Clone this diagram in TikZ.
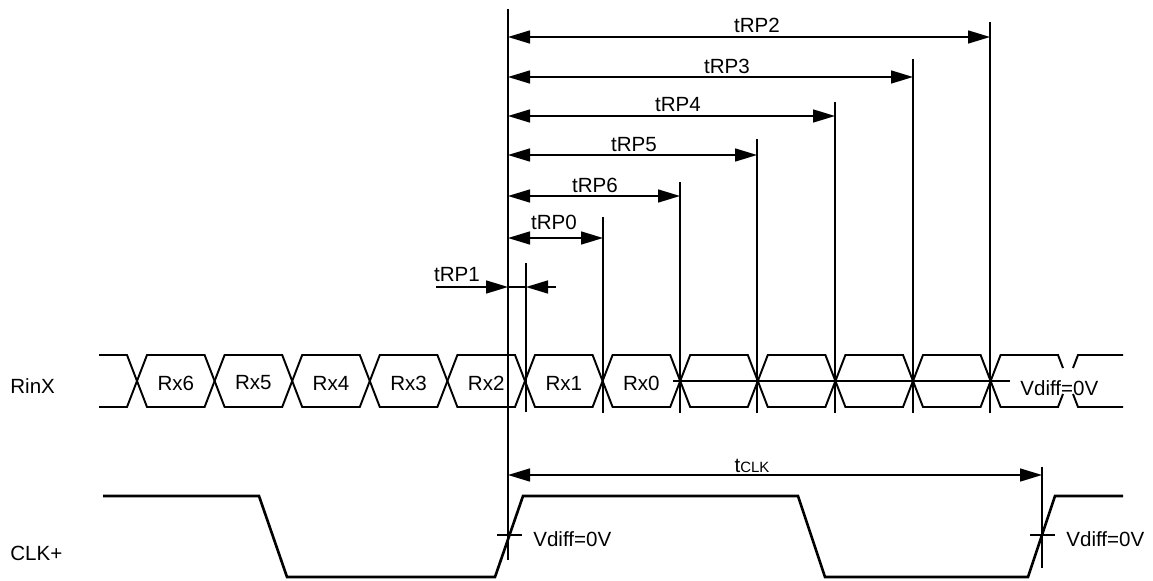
\documentclass[tikz,border=0pt]{standalone}
\usepackage{fontspec}
\setmainfont{Liberation Sans}
\usetikzlibrary{arrows.meta}
\tikzset{
    sig/.style = {line width=1.1pt, line join=miter},
    clkline/.style = {line width=1.5pt, line join=miter},
    refl/.style = {line width=0.7pt},
    tick/.style = {line width=0.8pt},
    dimb/.style = {{Triangle[length=0.44cm,width=0.26cm]}-{Triangle[length=0.44cm,width=0.26cm]}, line width=0.9pt},
    dimr/.style = {-{Triangle[length=0.44cm,width=0.26cm]}, line width=0.9pt},
    lbl/.style = {font=\fontsize{11.7}{14}\selectfont, inner sep=0pt}
}

\begin{document}
\begin{tikzpicture}[x=0.02cm,y=-0.02cm]
\useasboundingbox (0,0) rectangle (1153,581);
%
\node[lbl, anchor=west] at (10,386) (rinx) {RinX};
\node[lbl, anchor=west] at (10,553) (clkp) {CLK+};
%
% data bus
\draw[sig] (99,355) -- (127,355) -- (137,381) -- (127,407) -- (99,407);
\foreach \a/\b in {137/214.6, 214.6/292.2, 292.2/369.8, 369.8/447.4, 447.4/525, 525/602.6,
                   602.6/680.2, 680.2/757.8, 757.8/835.4, 835.4/913, 913/990.6}
    \draw[sig] (\a,381) -- (\a+10,355) -- (\b-10,355) -- (\b,381) -- (\b-10,407) -- (\a+10,407) -- cycle;
\draw[sig] (990.6,381) -- (1000.6,355) -- (1058,355) -- (1063,368);
\draw[sig] (990.6,381) -- (1000.6,407) -- (1058,407) -- (1063,394);
\draw[sig] (1073,368) -- (1078,355) -- (1123,355);
\draw[sig] (1073,394) -- (1078,407) -- (1123,407);
\draw[sig] (673,381) -- (1010,381);
%
\node[lbl] at (175.8,383) (rx6) {Rx6};
\node[lbl] at (253.4,383) (rx5) {Rx5};
\node[lbl] at (331,383) (rx4) {Rx4};
\node[lbl] at (408.6,383) (rx3) {Rx3};
\node[lbl] at (486.2,383) (rx2) {Rx2};
\node[lbl] at (563.8,383) (rx1) {Rx1};
\node[lbl] at (641.4,383) (rx0) {Rx0};
\node[lbl, anchor=west] at (1020,388) (vbus) {Vdiff=0V};
%
% reference lines
\coordinate (r0t) at (508,9);
\coordinate (r0b) at (508,560);
\draw[refl] (r0t) -- (r0b);
\foreach \n/\x/\top/\ya/\lx/\ly in {2/990/22/37/757/25, 3/913/59/77/727/66, 4/835/102/116/678/105,
                                    5/757/139/155/634/145, 6/680/182/196/595/185, 0/603/217/238/554/222} {
    \coordinate (top\n) at (\x,\top);
    \coordinate (bot\n) at (\x,413);
    \coordinate (beg\n) at (508,\ya);
    \coordinate (end\n) at (\x,\ya);
    \draw[refl] (top\n) -- (bot\n);
    \draw[dimb] (beg\n) -- (end\n);
    \node[lbl] at (\lx,\ly) (lab\n) {tRP\n};
}
%
% tRP1
\coordinate (top1) at (526,263);
\coordinate (bot1) at (526,412);
\coordinate (in1) at (436,287);
\coordinate (mid1) at (508,287);
\coordinate (end1) at (526,287);
\coordinate (out1) at (556,287);
\draw[refl] (top1) -- (bot1);
\draw[dimr] (in1) -- (mid1);
\draw[refl] (mid1) -- (end1);
\draw[dimr] (out1) -- (end1);
\node[lbl] at (457,275) (lab1) {tRP1};
%
% clock
\coordinate (ct) at (1042,467);
\coordinate (cb) at (1042,568);
\coordinate (cs) at (508,475);
\coordinate (ce) at (1042,475);
\draw[refl] (ct) -- (cb);
\draw[dimb] (cs) -- (ce);
\node[lbl, anchor=base] at (752,472) (tclk) {t{\fontsize{8.5}{10}\selectfont CLK}};
%
\draw[clkline] (103,496) -- (259,496) -- (287,577) -- (495,577) -- (523,496) -- (798,496)
    -- (825,577) -- (1028,577) -- (1055,496) -- (1123,496);
\coordinate (k1a) at (497,535);
\coordinate (k1b) at (522,535);
\coordinate (k2a) at (1030,535);
\coordinate (k2b) at (1055,535);
\draw[tick] (k1a) -- (k1b);
\draw[tick] (k2a) -- (k2b);
\node[lbl, anchor=west] at (533,539) (v1) {Vdiff=0V};
\node[lbl, anchor=west] at (1066,539) (v2) {Vdiff=0V};

\end{tikzpicture}
\end{document}
